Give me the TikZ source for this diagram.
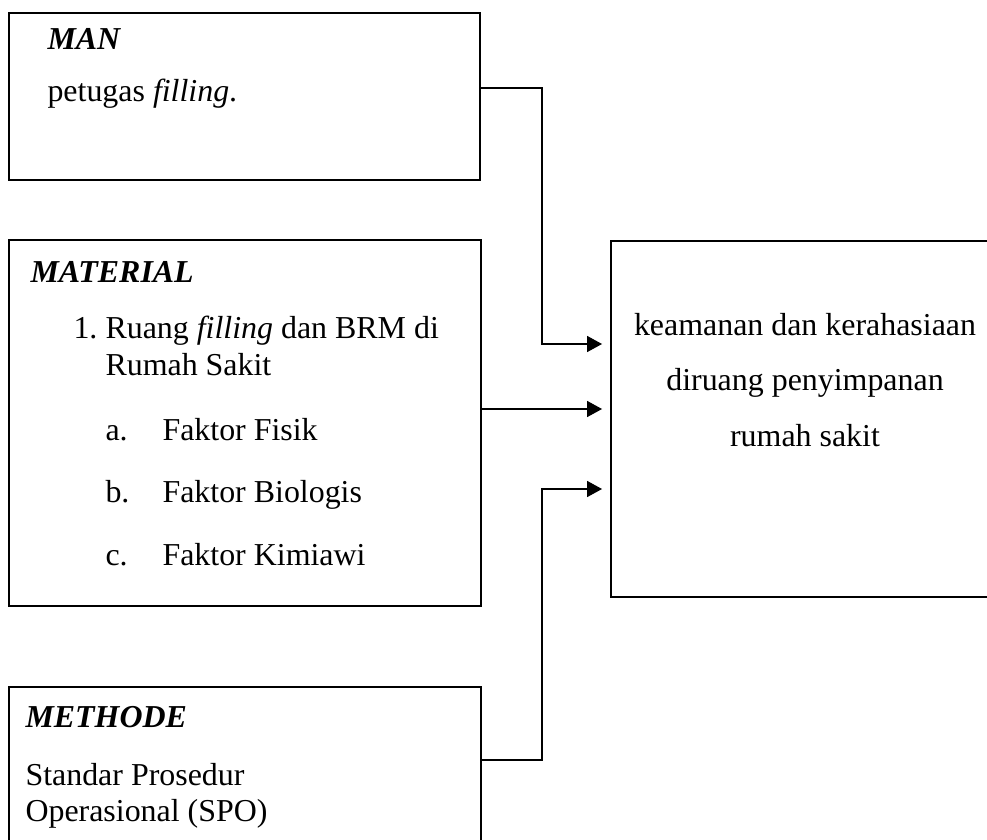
\documentclass[tikz,border=0pt]{standalone}
\usepackage{fontspec}
\setmainfont{Liberation Serif}
\usepackage{tikz}
\usetikzlibrary{arrows.meta, positioning, fit}

\begin{document}
\begin{tikzpicture}[
  x=0.376pt, y=-0.376pt,
  box/.style={rectangle, draw=black, line width=0.75pt, inner sep=0pt},
  txt/.style={anchor=base west, inner sep=0pt, font=\fontsize{12pt}{14pt}\selectfont},
  ctxt/.style={anchor=base, inner sep=0pt, font=\fontsize{12pt}{14pt}\selectfont},
  arr/.style={-{Triangle[length=5.6pt, width=6pt]}, line width=0.5pt, color=black, shorten >=3pt},
]
\useasboundingbox (0,0) rectangle (987,839);
\clip (0,0) rectangle (987,839);

% Boxes
\node[box, fit={(9,13) (480,180)}]    (man) {};
\node[box, fit={(9,240) (481,606)}]   (material) {};
\node[box, fit={(9,687) (481,900)}]   (methode) {};
\node[box, fit={(611,241) (1000,597)}] (hasil) {};

% MAN
\node[txt] (manHead) at (47,50)  {\textbf{\textit{MAN}}};
\node[txt] (manBody) at (47,102) {petugas \textit{filling}.};

% MATERIAL
\node[txt] (matHead) at (30,282) {\textbf{\textit{MATERIAL}}};
\node[txt] (matNum)  at (73,338) {1.};
\node[txt] (matOne)  at (105,338) {Ruang \textit{filling} dan BRM di};
\node[txt] (matTwo)  at (105,375) {Rumah Sakit};
\node[txt] (matA)    at (105,440) {a.};
\node[txt]           at (162,440) {Faktor Fisik};
\node[txt] (matB)    at (105,502) {b.};
\node[txt]           at (162,502) {Faktor Biologis};
\node[txt] (matC)    at (105,565) {c.};
\node[txt]           at (162,565) {Faktor Kimiawi};

% METHODE
\node[txt] (metHead) at (25,727) {\textbf{\textit{METHODE}}};
\node[txt] (metOne)  at (25,785) {Standar Prosedur};
\node[txt] (metTwo)  at (25,821) {Operasional (SPO)};

% Hasil
\node[ctxt] (hasOne)   at (805,335) {keamanan dan kerahasiaan};
\node[ctxt] (hasTwo)   at (805,390) {diruang penyimpanan};
\node[ctxt] (hasThree) at (805,446) {rumah sakit};

% Connectors
\draw[arr] (man.east |- 0,88) -| (542,344) -- (hasil.west |- 0,344);
\draw[arr] (material.east |- 0,409) -- (hasil.west |- 0,409);
\draw[arr] (methode.east |- 0,760) -| (542,489) -- (hasil.west |- 0,489);

\end{tikzpicture}
\end{document}
